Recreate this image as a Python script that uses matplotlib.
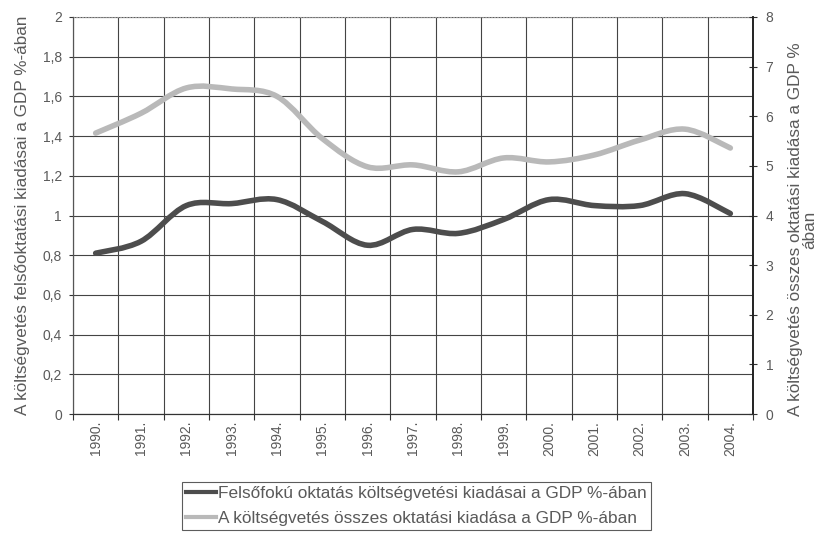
import matplotlib
matplotlib.use("Agg")
import matplotlib.pyplot as plt
import numpy as np
from matplotlib.path import Path
from matplotlib.patches import PathPatch
from matplotlib.lines import Line2D

plt.rcParams['font.family'] = ['Liberation Sans', 'DejaVu Sans']

years = ['1990.', '1991.', '1992.', '1993.', '1994.', '1995.', '1996.', '1997.',
         '1998.', '1999.', '2000.', '2001.', '2002.', '2003.', '2004.']
# felsofoku oktatas (bal tengely)
felso = [0.81, 0.87, 1.05, 1.06, 1.08, 0.97, 0.85, 0.93, 0.91, 0.98, 1.08, 1.05, 1.05, 1.11, 1.01]
# osszes oktatasi kiadas (jobb tengely)
osszes = [5.66, 6.06, 6.57, 6.55, 6.40, 5.55, 4.98, 5.02, 4.88, 5.16, 5.08, 5.22, 5.52, 5.74, 5.36]

label1 = 'Felsőfokú oktatás költségvetési kiadásai a GDP %-ában'
label2 = 'A költségvetés összes oktatási kiadása a GDP %-ában'

txt = '#5a5a5a'
dark = '#4d4d4d'
light = '#b9b9b9'


def smooth_path(xs, ys):
    # excel-szeru simitott vonal: Catmull-Rom -> Bezier
    pts = np.column_stack([xs, ys]).astype(float)
    n = len(pts)
    verts = [pts[0]]
    codes = [Path.MOVETO]
    for i in range(n - 1):
        p0 = pts[i - 1] if i > 0 else pts[i]
        p1 = pts[i]
        p2 = pts[i + 1]
        p3 = pts[i + 2] if i + 2 < n else pts[i + 1]
        c1 = p1 + (p2 - p0) / 6.0
        c2 = p2 - (p3 - p1) / 6.0
        verts += [c1, c2, p2]
        codes += [Path.CURVE4] * 3
    return Path(verts, codes)


fig = plt.figure(figsize=(8.22, 5.34), dpi=100)
ax = fig.add_axes([73 / 822, (534 - 414) / 534, 680 / 822, 397 / 534])
ax2 = ax.twinx()

x = np.arange(len(years))

ax.add_patch(PathPatch(smooth_path(x, felso), facecolor='none', edgecolor=dark,
                       lw=4, capstyle='round', zorder=3))
ax2.add_patch(PathPatch(smooth_path(x, osszes), facecolor='none', edgecolor=light,
                        lw=4, capstyle='round', zorder=3))

ax.set_xlim(-0.5, len(years) - 0.5)
ax.set_ylim(0, 2)
ax2.set_ylim(0, 8)

# x tengely: osztasvonalak a kategoriak hataran, feliratok kozepen
ax.set_xticks(np.arange(len(years) + 1) - 0.5)
ax.set_xticklabels([])
ax.set_xticks(x, minor=True)
ax.set_xticklabels(years, minor=True, rotation=90, fontsize=10, color=txt)
ax.tick_params(axis='x', which='major', length=4, direction='out', color='#333333')
ax.tick_params(axis='x', which='minor', length=0, pad=5)

yt = np.arange(0, 2.01, 0.2)
ax.set_yticks(yt)
ax.set_yticklabels([('%g' % v).replace('.', ',') for v in yt], fontsize=10, color=txt)
ax.tick_params(axis='y', length=3, direction='out', color='#333333', pad=5)

ax2.set_yticks(np.arange(0, 9, 1))
ax2.set_yticklabels([str(v) for v in range(9)], fontsize=10, color=txt)
ax2.tick_params(axis='y', length=6, direction='inout', color='#333333', pad=6)

ax.grid(True, which='major', color='#444444', lw=0.8)
ax.set_axisbelow(True)

for a in (ax, ax2):
    a.spines['top'].set_visible(False)
    a.spines['left'].set_color('#555555')
    a.spines['bottom'].set_color('#333333')
    a.spines['right'].set_color('#222222')
    a.spines['right'].set_linewidth(1.2)
ax.spines['top'].set_visible(True)
ax.spines['top'].set_color('#999999')
ax.spines['top'].set_linestyle(':')

ax.set_ylabel('A költségvetés felsőoktatási kiadásai a GDP %-ában',
              fontsize=12.3, color=txt, labelpad=9)
ax2.set_ylabel('A költségvetés összes oktatási kiadása a GDP %\nában',
               fontsize=12.3, color=txt, multialignment='center',
               linespacing=1.0)
ax2.yaxis.set_label_coords(1.051, 0.465)

handles = [Line2D([], [], color=dark, lw=3), Line2D([], [], color=light, lw=3)]
leg = fig.legend(handles, [label1, label2], loc='upper left',
                 bbox_to_anchor=(182 / 822, 1 - 482 / 534), fontsize=12.4,
                 frameon=True, fancybox=False, edgecolor='#333333',
                 handlelength=1.75, handletextpad=0.1, borderpad=0.25,
                 labelspacing=0.55, borderaxespad=0)
leg.get_frame().set_linewidth(0.8)
for t in leg.get_texts():
    t.set_color(txt)

fig.savefig('out.png', dpi=100)
